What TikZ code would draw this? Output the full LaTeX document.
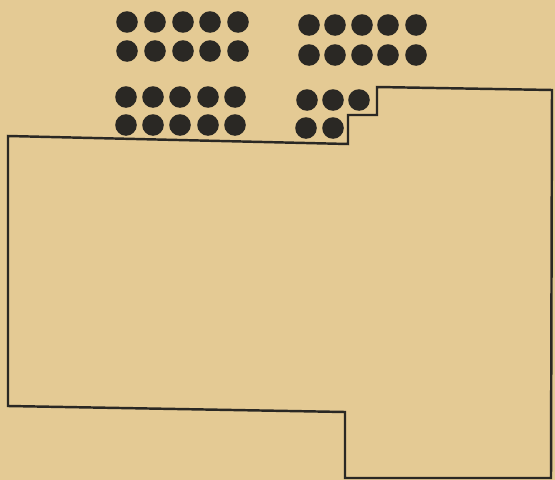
\documentclass[tikz,border=0pt]{standalone}
\usepackage{xcolor}
\definecolor{paper}{RGB}{228,202,148}
\definecolor{ink}{RGB}{42,40,36}
\usepackage{tikz}
\usetikzlibrary{positioning}

\begin{document}
\begin{tikzpicture}[
  x=0.02cm,y=-0.02cm,
  dot/.style={fill=ink,draw=none},
  outline/.style={draw=ink,line width=1.4pt,line join=miter}
]
  % Paper
  \fill[paper] (0,0) rectangle (555,480);
  \useasboundingbox (0,0) rectangle (555,480);
  % Dots -- top left block
  \foreach \x in {127,155,183,210,238}
    \foreach \y in {22,51}
      \fill[dot] (\x,\y) circle (10.8);
  % Dots -- lower left block
  \foreach \x in {126,153,180,208,235}
    \foreach \y in {97,125}
      \fill[dot] (\x,\y) circle (10.8);
  % Dots -- top right block
  \foreach \x in {309,335,362,388,416}
    \foreach \y in {25,55}
      \fill[dot] (\x,\y) circle (10.8);
  % Dots -- lower right block (stepped)
  \foreach \x in {307,333,359}
    \fill[dot] (\x,100) circle (10.8);
  \foreach \x in {306,333}
    \fill[dot] (\x,128) circle (10.8);
  % Outline
  \draw[outline] (8,136) -- (348,144) -- (348,115) -- (377,115) -- (377,87)
    -- (552,90) -- (551,478) -- (345,478) -- (345,412) -- (8,406) -- cycle;
\end{tikzpicture}
\end{document}
